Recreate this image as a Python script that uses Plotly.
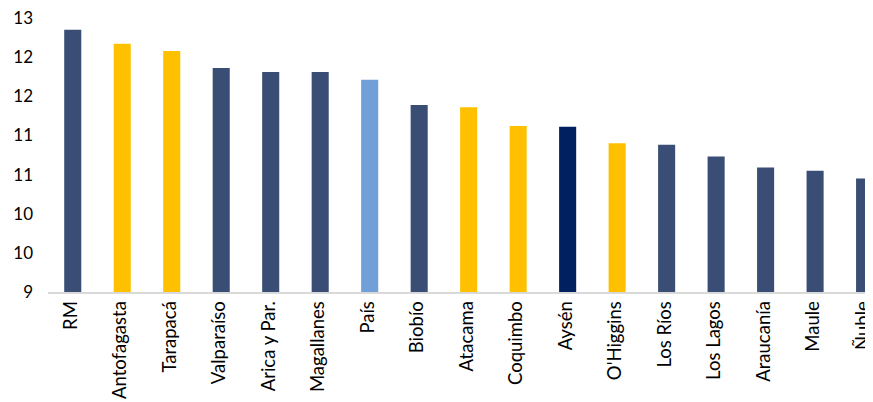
import plotly.graph_objects as go

regions = ["RM", "Antofagasta", "Tarapacá", "Valparaíso", "Arica y Par.", "Magallanes",
           "País", "Biobío", "Atacama", "Coquimbo", "Aysén", "O'Higgins", "Los Ríos",
           "Los Lagos", "Araucanía", "Maule", "Ñuble"]
values = [12.35, 12.17, 12.08, 11.86, 11.81, 11.81, 11.71, 11.39, 11.36, 11.12, 11.11,
          10.90, 10.88, 10.73, 10.59, 10.55, 10.45]
groups = ["base", "mining", "mining", "base", "base", "base", "country", "base", "mining",
          "mining", "highlight", "mining", "base", "base", "base", "base", "base"]
y_tickvals = [9, 9.5, 10, 10.5, 11, 11.5, 12, 12.5]
y_ticktext = ["9", "10", "10", "11", "11", "12", "12", "13"]

palette = {"base": "#3A4E75", "mining": "#FFC000", "country": "#71A0D8", "highlight": "#002060"}
colors = [palette[g] for g in groups]

fig = go.Figure(go.Bar(
    x=regions, y=values, marker=dict(color=colors, line=dict(width=0)),
    width=0.345,
))

# the page body adds an 8px margin, so the figure is sized to fit the remaining window
fig.update_layout(
    width=865, height=394,
    margin=dict(l=40, r=0, t=10, b=110, autoexpand=False),
    paper_bgcolor="white", plot_bgcolor="white",
    showlegend=False,
    font=dict(family="Lato, Carlito, sans-serif", size=17, color="#000000"),
)
fig.update_xaxes(
    range=[-0.5, 16.17], tickangle=-90, showline=True, linecolor="#D9D9D9", linewidth=1.5,
    showgrid=False, ticks="", tickfont=dict(size=18.5), automargin=False,
    ticklabelshift=-2, ticklabeloverflow="allow",
)
fig.update_yaxes(
    range=[9, 12.5], tickvals=y_tickvals, ticktext=y_ticktext,
    showgrid=False, zeroline=False, showline=False, ticks="",
    ticklabelstandoff=14, tickfont=dict(size=17), automargin=False,
    ticklabeloverflow="allow",
)

fig.write_html("out.html")
